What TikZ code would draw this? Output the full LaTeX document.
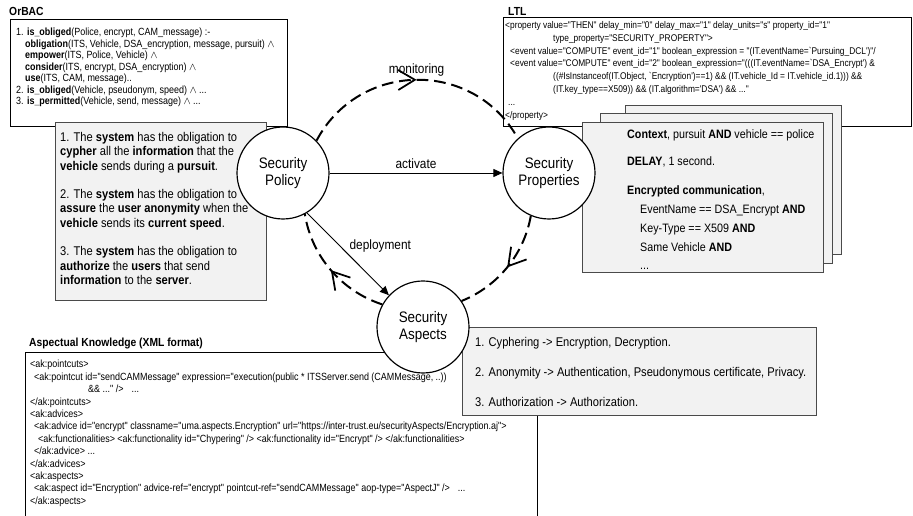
\documentclass[tikz,border=0pt]{standalone}
\usepackage{fontspec}
\setmainfont{Liberation Sans}[FakeStretch=0.88]
\newfontfamily\codefam{Liberation Sans}[FakeStretch=0.86]
\usetikzlibrary{arrows.meta,decorations.markings,positioning}

\definecolor{paper}{HTML}{F2F2F2}
\definecolor{rim}{HTML}{4A4A4A}

% one pixel of the drawing
\newdimen\pxu
\pxu=0.03cm

\newcommand{\orbacfont}{\codefam\fontsize{8.9}{9.8}\selectfont}
\newcommand{\ltlfont}{\codefam\fontsize{8.3}{11}\selectfont}
\newcommand{\xmlfont}{\codefam\fontsize{8.9}{10.6}\selectfont}
\newcommand{\bodyfont}{\fontsize{10.8}{12.4}\selectfont}

\begin{document}
\begin{tikzpicture}[x=0.03cm, y=-0.03cm,
    codebox/.style={rectangle, draw, line width=0.8pt, anchor=north west, inner sep=0pt},
    notebox/.style={rectangle, draw=rim, fill=paper, line width=1pt, anchor=north west, inner sep=0pt},
    code/.style={anchor=north west, inner sep=0pt, align=left},
    note/.style={anchor=north west, inner sep=0pt, align=left, font=\bodyfont},
    title/.style={anchor=west, inner sep=0pt, font=\fontsize{10}{12}\selectfont\bfseries},
    actor/.style={circle, draw, fill=white, line width=1pt, minimum size=92\pxu, inner sep=0pt, align=center, font=\fontsize{13}{15}\selectfont},
    flow/.style={line width=1.7pt, dash pattern=on 10pt off 5pt, postaction={decorate},
      decoration={markings, mark=at position 0.5 with {\arrow{Straight Barb[length=5mm, width=6mm, line width=1.5pt]}}}},
    push/.style={line width=0.8pt, -{Triangle[length=2.7mm, width=2.4mm]}},
    lbl/.style={inner sep=1pt, font=\fontsize{11.5}{13}\selectfont}
  ]
  \useasboundingbox (0,0) rectangle (913,516);

  % OrBAC
  \node[title] (orbactitle) at (9,11) {OrBAC};
  \node[codebox, minimum width=277\pxu, minimum height=107\pxu] (orbac) at (10,19) {};
  \node[code, font=\orbacfont] (orbactext) at (16,28) {%
    1. \textbf{is\_obliged}(Police, encrypt, CAM\_message) :-\\
    \hspace*{9\pxu}\textbf{obligation}(ITS, Vehicle, DSA\_encryption, message, pursuit) $\wedge$\\
    \hspace*{9\pxu}\textbf{empower}(ITS, Police, Vehicle) $\wedge$\\
    \hspace*{9\pxu}\textbf{consider}(ITS, encrypt, DSA\_encryption) $\wedge$\\
    \hspace*{9\pxu}\textbf{use}(ITS, CAM, message)..\\
    2. \textbf{is\_obliged}(Vehicle, pseudonym, speed) $\wedge$ ...\\
    3. \textbf{is\_permitted}(Vehicle, send, message) $\wedge$ ...};

  % LTL
  \node[title] (ltltitle) at (508,11) {LTL};
  \node[codebox, minimum width=408\pxu, minimum height=109\pxu] (ltl) at (503,17) {};
  \node[code, font=\ltlfont] (ltltext) at (505,21) {%
    <property value="THEN" delay\_min="0" delay\_max="1" delay\_units="s" property\_id="1"\\
    \hspace*{48\pxu}type\_property="SECURITY\_PROPERTY">\\
    \hspace*{5\pxu}<event value="COMPUTE" event\_id="1" boolean\_expression = "(IT.eventName=`Pursuing\_DCL')"/\\
    \hspace*{5\pxu}<event value="COMPUTE" event\_id="2" boolean\_expression="(((IT.eventName=`DSA\_Encrypt') \&\\
    \hspace*{48\pxu}((\#IsInstanceof(IT.Object, `Encryption')==1) \&\& (IT.vehicle\_Id = IT.vehicle\_id.1))) \&\&\\
    \hspace*{48\pxu}(IT.key\_type==X509)) \&\& (IT.algorithm='DSA') \&\& ..."\\
    \hspace*{3\pxu}...\\
    </property>};

  % Aspectual knowledge
  \node[title] (xmltitle) at (29,343) {Aspectual Knowledge (XML format)};
  \node[codebox, minimum width=512\pxu, minimum height=172\pxu] (xml) at (25,352) {};
  \node[code, font=\xmlfont] (xmltext) at (30,360) {%
    <ak:pointcuts>\\
    \hspace*{4\pxu}<ak:pointcut id="sendCAMMessage" expression="execution(public * ITSServer.send (CAMMessage, ..))\\
    \hspace*{58\pxu}\&\& ..." />\hspace*{8\pxu}...\\
    </ak:pointcuts>\\
    <ak:advices>\\
    \hspace*{4\pxu}<ak:advice id="encrypt" classname="uma.aspects.Encryption" url="https://inter-trust.eu/securityAspects/Encryption.aj">\\
    \hspace*{8\pxu}<ak:functionalities> <ak:functionality id="Chypering" /> <ak:functionality id="Encrypt" /> </ak:functionalities>\\
    \hspace*{4\pxu}</ak:advice> ...\\
    </ak:advices>\\
    <ak:aspects>\\
    \hspace*{4\pxu}<ak:aspect id="Encryption" advice-ref="encrypt" pointcut-ref="sendCAMMessage" aop-type="AspectJ" />\hspace*{8\pxu}...\\
    </ak:aspects>};

  % Obligations in words
  \node[notebox, minimum width=211\pxu, minimum height=178\pxu] (duties) at (55,122) {};
  \node[note] (dutiestext) at (60,132) {%
    1. The \textbf{system} has the obligation to\\
    \textbf{cypher} all the \textbf{information} that the\\
    \textbf{vehicle} sends during a \textbf{pursuit}.\\[11.5pt]
    2. The \textbf{system} has the obligation to\\
    \textbf{assure} the \textbf{user anonymity} when the\\
    \textbf{vehicle} sends its \textbf{current speed}.\\[11.5pt]
    3. The \textbf{system} has the obligation to\\
    \textbf{authorize} the \textbf{users} that send\\
    \textbf{information} to the \textbf{server}.};

  % Property cards
  \node[notebox, minimum width=216\pxu, minimum height=149\pxu] (cardback) at (625,105) {};
  \node[notebox, minimum width=232\pxu, minimum height=150\pxu] (cardmid) at (600,113) {};
  \node[notebox, minimum width=241\pxu, minimum height=150\pxu] (cardfront) at (582,122) {};
  \node[note, font=\fontsize{10.4}{16}\selectfont] (cardtext) at (627,129) {%
    \textbf{Context}, pursuit \textbf{AND} vehicle == police\\[7pt]
    \textbf{DELAY}, 1 second.\\[9.5pt]
    \textbf{Encrypted communication},\\
    \hspace*{13\pxu}EventName == DSA\_Encrypt \textbf{AND}\\
    \hspace*{13\pxu}Key-Type == X509 \textbf{AND}\\
    \hspace*{13\pxu}Same Vehicle \textbf{AND}\\
    \hspace*{13\pxu}...};

  % Aspects list
  \node[notebox, minimum width=354\pxu, minimum height=88\pxu] (aspectlist) at (462,327) {};
  \node[note, font=\fontsize{10.8}{25.6}\selectfont] (aspecttext) at (475,337) {%
    1. Cyphering -> Encryption, Decryption.\\
    2. Anonymity -> Authentication, Pseudonymous certificate, Privacy.\\
    3. Authorization -> Authorization.};

  % The three security circles
  \node[actor] (policy) at (283,173) {Security\\Policy};
  \node[actor] (props) at (549,173) {Security\\Properties};
  \node[actor] (aspects) at (423,327) {Security\\Aspects};

  % Cycle
  \draw[flow] (policy.44) to[out=62, in=119, looseness=1.15] node[lbl, above=1pt] (monitorlbl) {monitoring} (props.132);
  \draw[flow] (props.247) to[out=-100, in=22, looseness=0.91] (aspects.34);
  \draw[flow] (aspects.151) to[out=162, in=-81, looseness=0.92] (policy.298);

  % Direct links
  \draw[push] (policy) -- node[lbl, above=2pt] (activatelbl) {activate} (props);
  \draw[push] (policy.301) -- node[lbl, anchor=south west] (deploylbl) {deployment} (aspects.137);

\end{tikzpicture}
\end{document}
